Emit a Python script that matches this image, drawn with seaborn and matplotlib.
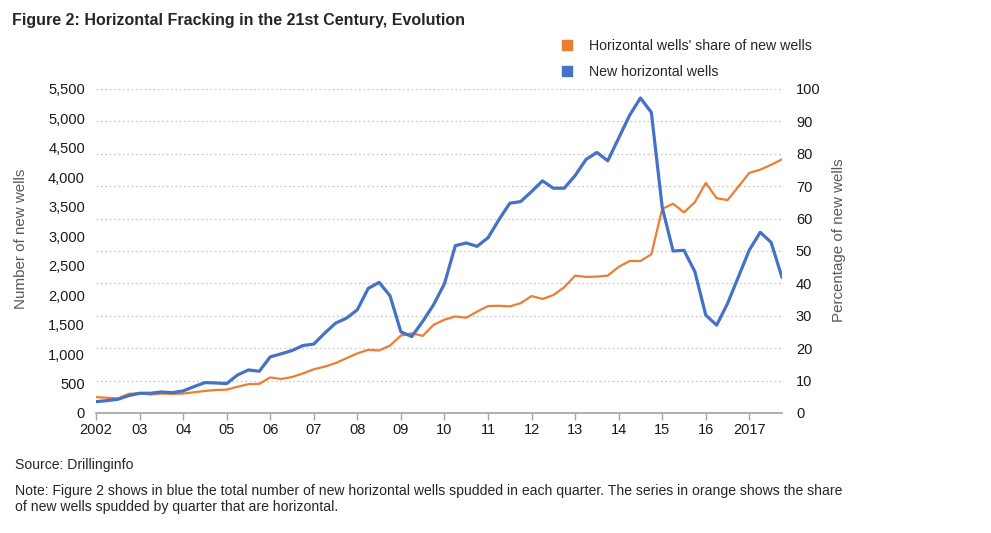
import numpy as np
import pandas as pd
import matplotlib
matplotlib.use('agg')
import seaborn as sns
import matplotlib.pyplot as plt
from matplotlib.lines import Line2D
from matplotlib.ticker import FuncFormatter

# quarterly data, 2002Q1 .. 2017Q4
new_wells = [193, 210, 232, 295,
             335, 335, 357, 346,
             374, 448, 516, 510,
             499, 646, 731, 709,
             953, 1004, 1060, 1145,
             1170, 1355, 1525, 1610,
             1752, 2115, 2217, 1990,
             1378, 1298, 1554, 1837,
             2194, 2841, 2886, 2829,
             2975, 3280, 3561, 3589,
             3759, 3941, 3816, 3816,
             4031, 4304, 4423, 4281,
             4666, 5052, 5347, 5103,
             3490, 2750, 2761, 2398,
             1661, 1491, 1860, 2313,
             2767, 3067, 2897, 2302]
share_pct = [4.9, 4.7, 4.5, 5.9,
             6.1, 5.7, 6.0, 5.9,
             6.0, 6.4, 6.8, 7.1,
             7.2, 8.1, 8.9, 9.0,
             11.0, 10.5, 11.1, 12.2,
             13.5, 14.3, 15.4, 16.9,
             18.4, 19.5, 19.3, 20.8,
             23.9, 24.6, 23.8, 27.2,
             28.8, 29.8, 29.4, 31.3,
             33.0, 33.1, 32.9, 33.9,
             36.1, 35.2, 36.4, 38.8,
             42.4, 42.0, 42.1, 42.4,
             45.1, 46.9, 46.9, 49.0,
             63.0, 64.6, 61.9, 65.1,
             71.0, 66.3, 65.7, 69.9,
             74.1, 75.1, 76.6, 78.3]
years = list(range(2002, 2018))
year_labels = ["2002"] + ["%02d" % (y % 100) for y in years[1:-1]] + ["2017"]

df = pd.DataFrame({"q": np.arange(len(new_wells)),
                   "wells": new_wells,
                   "share": share_pct})

blue = "#4472C4"
orange = "#ED7D31"

sns.set_theme(style="white")
plt.rcParams['font.family'] = ['Liberation Sans', 'DejaVu Sans']

fig = plt.figure(figsize=(9.91, 5.33), dpi=100)
ax = fig.add_axes([96/991, 1-413/533, 686/991, 324/533])   # percentage (right)
ax2 = ax.twinx()                                            # counts (left)

sns.lineplot(data=df, x="q", y="share", ax=ax, color=orange, lw=1.6)
sns.lineplot(data=df, x="q", y="wells", ax=ax2, color=blue, lw=2.3)

# right axis, percentage
ax.yaxis.tick_right()
ax.yaxis.set_label_position("right")
ax.set_ylim(0, 100)
ax.set_yticks(range(0, 101, 10))
ax.grid(True, axis='y', linestyle=(0, (1.5, 2)), color='#c9c9c9', lw=0.9)
ax.set_ylabel("Percentage of new wells", fontsize=10.9, color='#595959')
ax.yaxis.set_label_coords(1.073, 0.532)

# left axis, counts
ax2.yaxis.tick_left()
ax2.yaxis.set_label_position("left")
ax2.set_ylim(0, 5500)
ax2.set_yticks(range(0, 5501, 500))
ax2.yaxis.set_major_formatter(FuncFormatter(lambda v, p: "{:,.0f}".format(v)))
ax2.set_ylabel("Number of new wells", fontsize=10.9, color='#595959')
ax2.yaxis.set_label_coords(-0.099, 0.537)
ax2.grid(False)

ax.set_xlim(0, len(new_wells) - 1)
ax.set_xticks([4 * i for i in range(len(years))])
ax.set_xticklabels(year_labels)
ax.set_xlabel("")

for a in (ax, ax2):
    for s in ("top", "left", "right"):
        a.spines[s].set_visible(False)
    a.spines["bottom"].set_color("#a6a6a6")
    a.tick_params(axis='y', length=0, labelsize=10.5, colors='#1a1a1a', pad=8)
ax2.spines["bottom"].set_visible(False)
ax.tick_params(axis='x', length=5, width=1, color='#a6a6a6', direction='out',
               labelsize=10.5, labelcolor='#1a1a1a', pad=2, bottom=True)
ax.tick_params(axis='y', pad=10)

handles = [Line2D([], [], marker='s', ls='none', color=orange, markersize=6.5),
           Line2D([], [], marker='s', ls='none', color=blue, markersize=6.5)]
fig.legend(handles, ["Horizontal wells' share of new wells", "New horizontal wells"],
           loc='upper left', bbox_to_anchor=(561/991, 1-39/533), frameon=False,
           fontsize=10.2, handlelength=0.8, handletextpad=1.15, labelspacing=0.85,
           borderpad=0, borderaxespad=0)

fig.text(12/991, 1-20/533, "Figure 2: Horizontal Fracking in the 21st Century, Evolution",
         fontsize=11.5, fontweight='bold', va='center', ha='left')
fig.text(15/991, 1-465/533, "Source: Drillinginfo", fontsize=10.1, va='center', ha='left')
fig.text(15/991, 1-484/533,
         "Note: Figure 2 shows in blue the total number of new horizontal wells spudded in each quarter. "
         "The series in orange shows the share\nof new wells spudded by quarter that are horizontal.",
         fontsize=10.1, va='top', ha='left', linespacing=1.15)

plt.savefig("out.png", dpi=100)
